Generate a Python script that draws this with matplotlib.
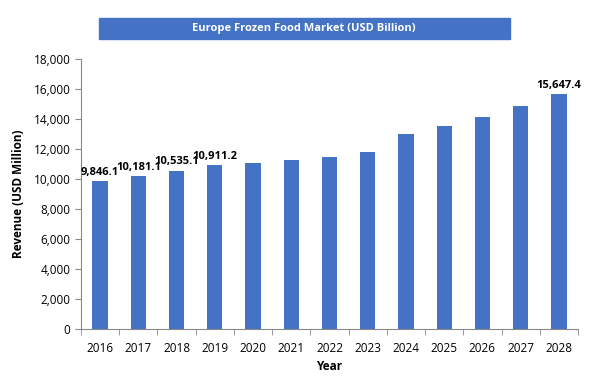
import numpy as np
import matplotlib.pyplot as plt
from matplotlib.patches import Rectangle
from matplotlib.ticker import FuncFormatter

years = ['2016', '2017', '2018', '2019', '2020', '2021', '2022',
         '2023', '2024', '2025', '2026', '2027', '2028']
revenue = [9846.1, 10181.1, 10535.1, 10911.2, 11090, 11270, 11470,
           11800, 13000, 13530, 14130, 14870, 15647.4]
labels = {0: '9,846.1', 1: '10,181.1', 2: '10,535.1', 3: '10,911.2', 12: '15,647.4'}

plt.rcParams['font.family'] = ['Open Sans', 'DejaVu Sans']

fig = plt.figure(figsize=(6.16, 3.89), dpi=100)
ax = fig.add_axes([81/616, 1-329/389, 497/616, 270/389])

x = np.arange(len(years))
color = '#4472C4'
ax.bar(x, revenue, width=0.4, color=color, zorder=2)
ax.set_xlim(-0.5, len(years)-0.5)
ax.set_ylim(0, 18000)
ax.set_yticks(range(0, 18001, 2000))
ax.yaxis.set_major_formatter(FuncFormatter(lambda v, p: f'{int(v):,}'))
ax.set_xticks(x)
ax.set_xticklabels(years)
ax.set_xticks(np.arange(-0.5, len(years), 1), minor=True)
ax.tick_params(axis='x', which='major', length=0, labelsize=8.5, pad=9)
ax.tick_params(axis='x', which='minor', length=4, color='#888888')
ax.tick_params(axis='y', labelsize=8.5, length=4, color='#888888')
for s in ['top', 'right']:
    ax.spines[s].set_visible(False)
for s in ['left', 'bottom']:
    ax.spines[s].set_color('#888888')

for i, t in labels.items():
    ax.text(x[i], revenue[i] + 250, t, ha='center', va='bottom',
            fontsize=8, fontweight='bold')

ax.set_xlabel('Year', fontsize=8.5, fontweight='bold', labelpad=4)
ax.set_ylabel('Revenue (USD Million)', fontsize=8.5, fontweight='bold', labelpad=6)

fig.patches.append(Rectangle((99/616, 1-39/389), 411/616, 21/389,
                             transform=fig.transFigure, color=color))
fig.text(304/616, 1-28.5/389, 'Europe Frozen Food Market (USD Billion)',
         ha='center', va='center', color='white', fontsize=8, fontweight='bold')

fig.savefig('out.png', dpi=100)
